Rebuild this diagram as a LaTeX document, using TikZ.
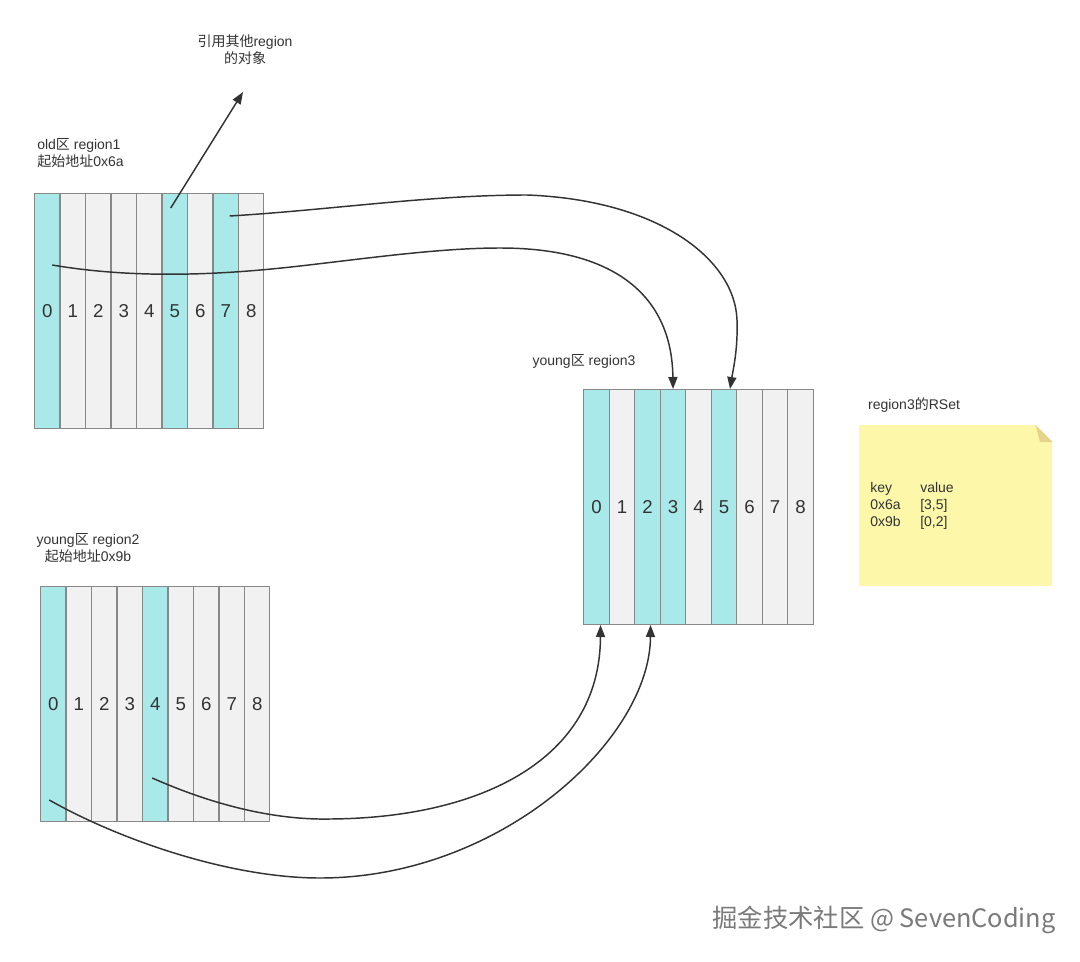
\documentclass[tikz,border=0pt]{standalone}
\usepackage{fontspec}
\setmainfont{Liberation Sans}
\newfontfamily\cjk{Noto Sans CJK SC}
\usetikzlibrary{arrows.meta,calc}
\definecolor{cyanfill}{HTML}{A9E9EA}
\definecolor{cellgray}{HTML}{F1F1F1}
\definecolor{cellline}{HTML}{888888}
\definecolor{ink}{HTML}{333333}
\definecolor{note}{HTML}{FDF7A9}
\definecolor{notefold}{HTML}{E6D389}
\definecolor{mark}{HTML}{7A7A7A}

\begin{document}
\begin{tikzpicture}[x=0.75pt,y=-0.75pt,
 font=\fontsize{10.5}{12.6}\selectfont,text=ink,
 cell/.style={draw=cellline,line width=0.75pt,fill=cellgray,minimum width=19.1pt,minimum height=176.25pt,inner sep=0pt,anchor=north west,font=\fontsize{14}{16}\selectfont},
 hot/.style={fill=cyanfill},
 cold/.style={},
 lbl/.style={align=center,inner sep=0pt},
 arr/.style={-{Triangle[length=9pt,width=6.8pt]},line width=1.1pt,draw=ink}
]
\fill[white] (0,0) rectangle (1080,962);
\useasboundingbox (0,0) rectangle (1080,962);

% region1 (old)
\node[lbl] (refobj) at (245,50) {{\cjk 引用其他}region\\{\cjk 的对象}};
\node[lbl,align=left,anchor=west] (r1lbl) at (37,153) {old{\cjk 区} region1\\{\cjk 起始地址}0x6a};
\foreach \i/\s in {0/hot,1/cold,2/cold,3/cold,4/cold,5/hot,6/cold,7/hot,8/cold}
  \node[cell,\s] (r1c\i) at ({34+25.5*\i},193) {\i};

% region2 (young)
\node[lbl] (r2lbl) at (88,548) {young{\cjk 区} region2\\{\cjk 起始地址}0x9b};
\foreach \i/\s in {0/hot,1/cold,2/cold,3/cold,4/hot,5/cold,6/cold,7/cold,8/cold}
  \node[cell,\s] (r2c\i) at ({40+25.5*\i},586) {\i};

% region3 (young)
\node[lbl] (r3lbl) at (584,361) {young{\cjk 区} region3};
\foreach \i/\s in {0/hot,1/cold,2/hot,3/hot,4/cold,5/hot,6/cold,7/cold,8/cold}
  \node[cell,\s] (r3c\i) at ({583.3+25.5*\i},389) {\i};

% RSet note
\node[lbl] (rsetlbl) at (914,405) {region3{\cjk 的}RSet};
\node[fill=note,minimum width=144.75pt,minimum height=120.75pt,anchor=north west,inner sep=0pt] (rset) at (859,425) {};
\fill[white] (rset.north east) -- ++(-17,0) -- ++(17,17) -- cycle;
\fill[notefold] ($(rset.north east)+(-17,0)$) -- ++(17,17) -- ++(-12.5,0) -- cycle;
\node[anchor=west,inner sep=0pt] (rsettab) at (870,506) {\begin{tabular}{@{}p{37.5pt}@{}l@{}}
key & value\\
0x6a & [3,5]\\
0x9b & [0,2]
\end{tabular}};

% references
\coordinate (reftip) at (243,92);
\draw[arr] ($(r1c5.north)+(-4,15)$) -- (reftip);
\draw[arr] ($(r1c7.north)+(4,23)$) .. controls (330,210) and (430,195) .. (527,195)
  .. controls (660,200) and (735,260) .. (737,320)
  .. controls (738,350) and (733,370) .. ($(r3c5.north)+(6,0)$);
\draw[arr] ($(r1c0.north)+(5,72)$) .. controls (140,280) and (230,274) .. (300,266)
  .. controls (370,258) and (440,248) .. (500,248)
  .. controls (620,248) and (672,300) .. (r3c3.north);
\draw[arr] ($(r2c4.north)+(-3,192)$) .. controls (220,808) and (280,820) .. (330,819)
  .. controls (480,818) and (600,760) .. ($(r3c0.south)+(4,0)$);
\draw[arr] ($(r2c0.north)+(-4,214)$) .. controls (120,840) and (230,878) .. (320,878)
  .. controls (500,878) and (650,740) .. ($(r3c2.south)+(3,0)$);

\node[font=\cjk\fontsize{19}{22}\selectfont,text=mark] (wm) at (884,920) {掘金技术社区 @ SevenCoding};
\end{tikzpicture}
\end{document}
